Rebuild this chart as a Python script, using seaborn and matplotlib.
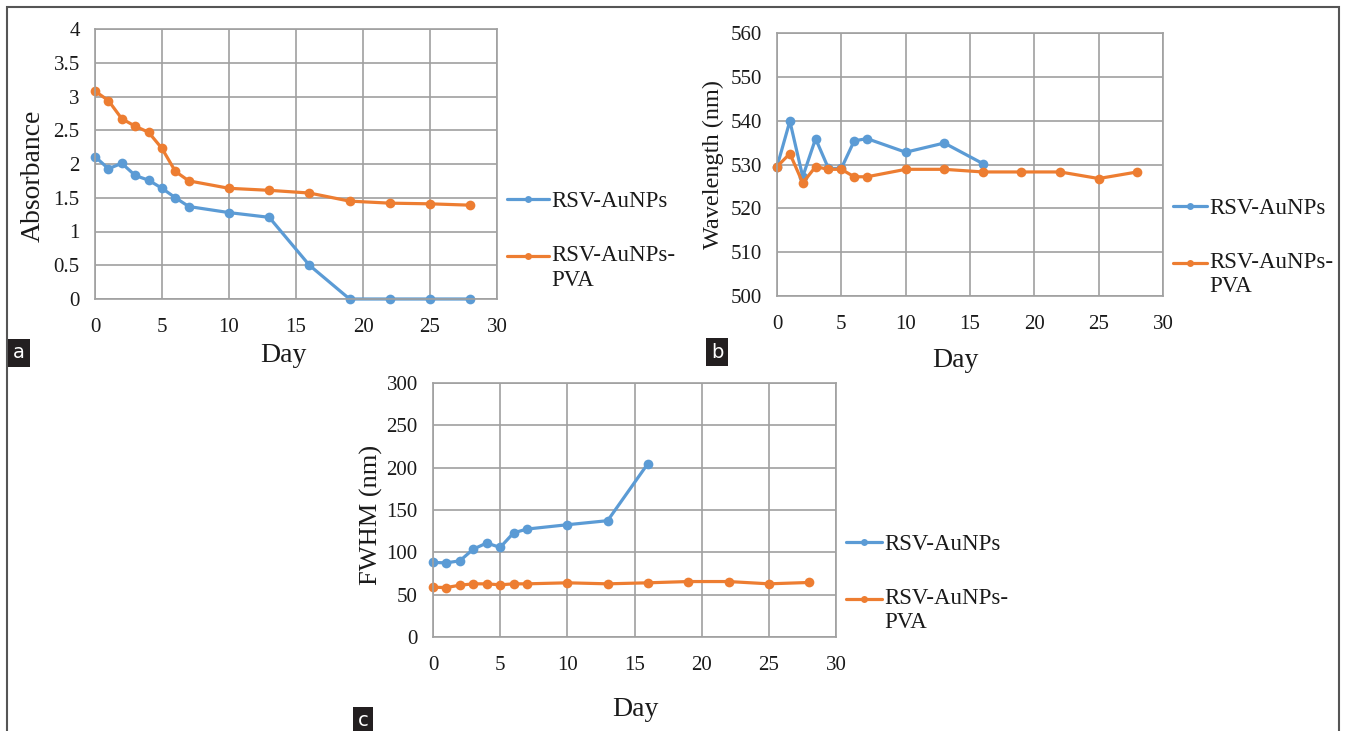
# Stability of RSV-AuNPs with and without PVA over 28 days

import numpy as np
import pandas as pd
import matplotlib
matplotlib.use("Agg")
import matplotlib.pyplot as plt
from matplotlib.lines import Line2D
from matplotlib.patches import Rectangle
from matplotlib.legend_handler import HandlerLine2D
from matplotlib.ticker import FormatStrFormatter, MultipleLocator
import seaborn as sns

# data
days_all = [0, 1, 2, 3, 4, 5, 6, 7, 10, 13, 16, 19, 22, 25, 28]

abs_aunps = [2.11, 1.93, 2.01, 1.83, 1.76, 1.64, 1.50, 1.37, 1.28, 1.21, 0.50, 0.0, 0.0, 0.0, 0.0]
abs_pva = [3.08, 2.94, 2.67, 2.56, 2.47, 2.23, 1.89, 1.75, 1.64, 1.61, 1.57, 1.45, 1.42, 1.41, 1.39]

wl_aunps = [529.5, 539.9, 527.2, 535.9, 529.1, 529.1, 535.4, 535.9, 532.8, 534.9, 530.2]
wl_pva = [529.5, 532.5, 525.8, 529.5, 528.9, 528.9, 527.2, 527.2, 528.9, 528.9, 528.3, 528.3, 528.3, 526.8, 528.3]

fwhm_aunps = [88, 87.6, 90, 103.8, 111, 105.8, 123, 127.5, 132.6, 137.4, 204.9]
fwhm_pva = [58.8, 58.4, 61.2, 62.8, 62.8, 61.6, 62.8, 62.8, 64, 62.8, 64, 65.5, 65.5, 62.8, 64.4]

series_names = ["RSV-AuNPs", "RSV-AuNPs-PVA"]
legend_labels = ["RSV-AuNPs", "RSV-AuNPs-\nPVA"]
colors = ["#5B9BD5", "#ED7D31"]


def long_df(ycol, blue, orange):
    d1 = pd.DataFrame({"Day": days_all[:len(blue)], ycol: blue, "Sample": series_names[0]})
    d2 = pd.DataFrame({"Day": days_all[:len(orange)], ycol: orange, "Sample": series_names[1]})
    return pd.concat([d1, d2], ignore_index=True)


df_a = long_df("Absorbance", abs_aunps, abs_pva)
df_b = long_df("Wavelength (nm)", wl_aunps, wl_pva)
df_c = long_df("FWHM (nm)", fwhm_aunps, fwhm_pva)


# legend handle that sits on the first line of a two-line label (Excel style)
class FirstLineHandler(HandlerLine2D):
    def create_artists(self, legend, orig_handle, xdescent, ydescent, width, height, fontsize, trans):
        arts = super().create_artists(legend, orig_handle, xdescent, ydescent, width, height, fontsize, trans)
        for a in arts:
            a.set_ydata(np.asarray(a.get_ydata()) + 0.52 * fontsize)
        return arts


sns.set_theme(style="white")
plt.rcParams["font.family"] = ["Liberation Serif", "DejaVu Serif"]
txt_col = "#1a1a1a"

W, H = 1346, 731
fig = plt.figure(figsize=(W / 100, H / 100), dpi=100)


def px_axes(left, top, right, bottom):
    return fig.add_axes([left / W, 1 - bottom / H, (right - left) / W, (bottom - top) / H])


ax_a = px_axes(95, 29, 497, 299)
ax_b = px_axes(777, 33, 1163, 296)
ax_c = px_axes(433, 383, 836, 637)

panels = [
    (ax_a, df_a, "Absorbance", (0, 4), 0.5, "%g", 20),
    (ax_b, df_b, "Wavelength (nm)", (500, 560), 10, "%d", 17.5),
    (ax_c, df_c, "FWHM (nm)", (0, 300), 50, "%d", 19),
]

grid_col = "#a0a0a0"
for ax, df, ycol, ylim, ystep, fmt, ylab_size in panels:
    sns.lineplot(data=df, x="Day", y=ycol, hue="Sample", palette=colors,
                 marker="o", markersize=7, markeredgewidth=0, linewidth=2.3,
                 legend=False, ax=ax)
    ax.set_xlim(0, 30)
    ax.set_ylim(*ylim)
    ax.xaxis.set_major_locator(MultipleLocator(5))
    ax.yaxis.set_major_locator(MultipleLocator(ystep))
    ax.yaxis.set_major_formatter(FormatStrFormatter(fmt))
    ax.grid(True, color=grid_col, linewidth=1.2)
    for sp in ax.spines.values():
        sp.set_color(grid_col)
        sp.set_linewidth(1.2)
    ax.tick_params(length=0, labelsize=15, colors=txt_col)
    ax.tick_params(axis="y", pad=11)
    ax.tick_params(axis="x", pad=14)
    ax.set_xlabel("Day", fontsize=20, color=txt_col)
    ax.set_ylabel(ycol, fontsize=ylab_size, color=txt_col)
    for ln in ax.get_lines():
        ln.set_clip_on(False)

ax_a.yaxis.set_label_coords(-0.122, 0.455)
ax_a.xaxis.set_label_coords(0.468, -0.163)
ax_b.yaxis.set_label_coords(-0.137, 0.5)
ax_b.xaxis.set_label_coords(0.461, -0.198)
ax_c.yaxis.set_label_coords(-0.124, 0.48)
ax_c.xaxis.set_label_coords(0.501, -0.236)

handles = [Line2D([], [], color=c, linewidth=2.3, marker="o", markersize=5,
                  markeredgewidth=0) for c in colors]
for ax, yanchor, hlen in [(ax_a, 0.215, 1.8), (ax_b, 0.185, 1.45), (ax_c, 0.210, 1.55)]:
    leg = ax.legend(handles, legend_labels, loc="center left", bbox_to_anchor=(1.0, yanchor),
                    frameon=False, fontsize=16.5, handlelength=hlen, handletextpad=0.1,
                    labelspacing=1.45, borderaxespad=0.25, borderpad=0.2,
                    handler_map={handles[1]: FirstLineHandler()})
    for t in leg.get_texts():
        t.set_color(txt_col)
        t.set_linespacing(1.2)

# panel letters
for letter, x, y in [("a", 19, 353), ("b", 717, 352), ("c", 363, 721)]:
    fig.text(x / W, 1 - y / H, letter, color="white", fontsize=14, ha="center", va="center",
             family="DejaVu Sans",
             bbox=dict(boxstyle="square,pad=0.25", facecolor="#231f20", edgecolor="none"))

# outer frame
fig.add_artist(Rectangle((7 / W, -0.05), (1339 - 7) / W, 1.05 - 7 / H,
                         transform=fig.transFigure, fill=False,
                         edgecolor="#555555", linewidth=1.5))

fig.savefig("out.png", dpi=100, facecolor="white")
